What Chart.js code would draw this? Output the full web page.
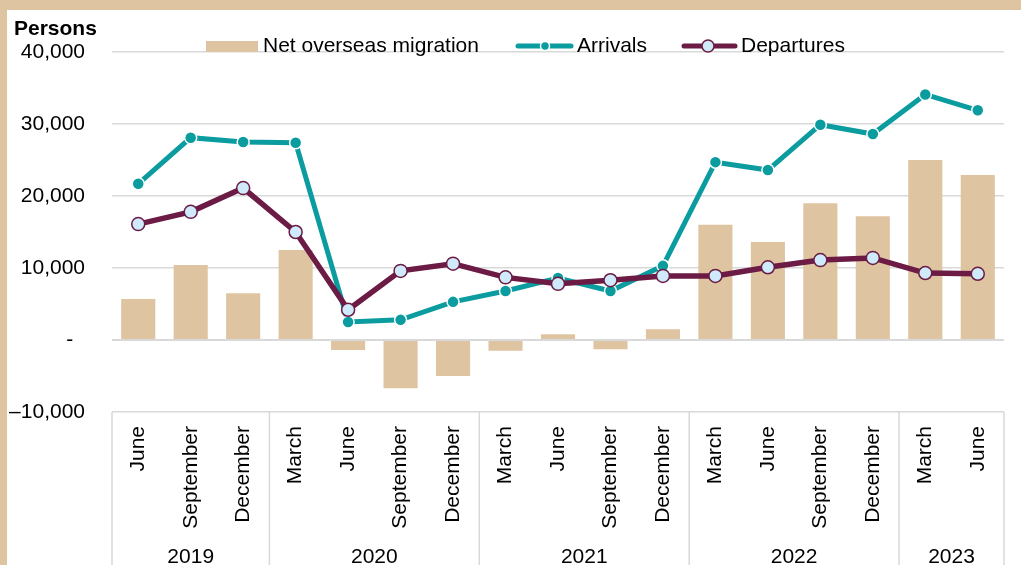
<!DOCTYPE html>
<html>
<head>
<meta charset="utf-8">
<script src="https://cdn.jsdelivr.net/npm/chart.js@4/dist/chart.umd.min.js"></script>
<style>
  html, body { margin: 0; padding: 0; background: #dec4a1; }
  canvas { display: block; }
</style>
</head>
<body>
<canvas id="migration-chart" width="1021" height="565"></canvas>
<script>
  // quarters and the year each one falls in
  var months = ['June', 'September', 'December',
    'March', 'June', 'September', 'December',
    'March', 'June', 'September', 'December',
    'March', 'June', 'September', 'December',
    'March', 'June'];
  var years = ['2019', '2020', '2021', '2022', '2023'];
  var yearCounts = [3, 4, 4, 4, 2];

  var netMigration = [5700, 10400, 6500, 12500, -1400, -6700, -5000, -1500, 800, -1300, 1500,
    16000, 13600, 19000, 17200, 25000, 22900];
  var arrivals = [21700, 28100, 27500, 27400, 2500, 2800, 5300, 6800, 8600, 6800, 10300,
    24700, 23600, 29900, 28600, 34100, 31900];
  var departures = [16100, 17800, 21100, 15000, 4200, 9600, 10600, 8700, 7800, 8300, 8900,
    8900, 10100, 11100, 11400, 9300, 9200];

  var yTicks = [-10000, 0, 10000, 20000, 30000, 40000];

  var TAN = '#dec4a1';
  var TEAL = '#0b9ca0';
  var MAROON = '#6b1b44';
  var PALE = '#cfeafb';
  var GRID = '#d9d9d9';
  var FONT = '"Liberation Sans", Arial, sans-serif';
  var SIZE = 21;

  var frame = {
    id: 'frame',
    beforeDraw: function (chart) {
      var ctx = chart.ctx;
      ctx.save();
      ctx.fillStyle = TAN;
      ctx.fillRect(0, 0, chart.width, chart.height);
      ctx.fillStyle = '#ffffff';
      ctx.fillRect(7, 10, chart.width - 7, chart.height - 10);
      ctx.restore();
    }
  };

  var extras = {
    id: 'extras',
    afterDraw: function (chart) {
      var ctx = chart.ctx;
      var x = chart.scales.x;
      var area = chart.chartArea;
      ctx.save();

      // year group boxes under the axis
      ctx.strokeStyle = GRID;
      ctx.lineWidth = 1.5;
      var start = 0;
      ctx.font = SIZE + 'px ' + FONT;
      ctx.fillStyle = '#000';
      ctx.textAlign = 'center';
      ctx.textBaseline = 'alphabetic';
      for (var i = 0; i <= years.length; i++) {
        var px = x.getPixelForValue(start - 0.5);
        ctx.beginPath();
        ctx.moveTo(px, area.bottom);
        ctx.lineTo(px, chart.height);
        ctx.stroke();
        if (i < years.length) {
          var end = start + yearCounts[i];
          var mid = (x.getPixelForValue(start - 0.5) + x.getPixelForValue(end - 0.5)) / 2;
          ctx.fillText(years[i], mid, 563);
          start = end;
        }
      }

      // axis title
      ctx.font = 'bold ' + SIZE + 'px ' + FONT;
      ctx.textAlign = 'left';
      ctx.fillText('Persons', 14, 35);

      // legend
      ctx.font = SIZE + 'px ' + FONT;
      ctx.textBaseline = 'middle';
      ctx.fillStyle = TAN;
      ctx.fillRect(206, 41, 52, 11);
      ctx.fillStyle = '#000';
      ctx.fillText('Net overseas migration', 263, 46);

      ctx.lineCap = 'round';
      ctx.lineWidth = 5;
      ctx.strokeStyle = TEAL;
      ctx.beginPath(); ctx.moveTo(518, 46); ctx.lineTo(571, 46); ctx.stroke();
      ctx.beginPath(); ctx.arc(545, 46, 4.5, 0, Math.PI * 2);
      ctx.fillStyle = TEAL; ctx.fill();
      ctx.lineWidth = 1.5; ctx.strokeStyle = '#fff'; ctx.stroke();
      ctx.fillStyle = '#000';
      ctx.fillText('Arrivals', 577, 46);

      ctx.lineWidth = 5;
      ctx.strokeStyle = MAROON;
      ctx.beginPath(); ctx.moveTo(684, 46); ctx.lineTo(735, 46); ctx.stroke();
      ctx.beginPath(); ctx.arc(708, 46, 6, 0, Math.PI * 2);
      ctx.fillStyle = PALE; ctx.fill();
      ctx.lineWidth = 1.5; ctx.stroke();
      ctx.fillStyle = '#000';
      ctx.fillText('Departures', 741, 46);

      ctx.restore();
    }
  };

  var chartContext = document.getElementById('migration-chart');
  var migrationChart = new Chart(chartContext, {
    type: 'bar',
    data: {
      labels: months,
      datasets: [
        {
          type: 'line',
          label: 'Departures',
          data: departures,
          borderColor: MAROON,
          borderWidth: 5.5,
          pointRadius: 6.5,
          pointBackgroundColor: PALE,
          pointBorderColor: MAROON,
          pointBorderWidth: 1.5,
          tension: 0,
          order: 1
        },
        {
          type: 'line',
          label: 'Arrivals',
          data: arrivals,
          borderColor: TEAL,
          borderWidth: 5,
          pointRadius: 6,
          pointBackgroundColor: TEAL,
          pointBorderColor: '#ffffff',
          pointBorderWidth: 1.5,
          tension: 0,
          order: 2
        },
        {
          label: 'Net overseas migration',
          data: netMigration,
          backgroundColor: TAN,
          barPercentage: 0.65,
          categoryPercentage: 1,
          order: 3
        }
      ]
    },
    options: {
      responsive: false,
      animation: false,
      layout: { padding: { top: 52, right: 17, left: 0, bottom: 0 } },
      plugins: {
        legend: { display: false },
        tooltip: { enabled: false }
      },
      scales: {
        x: {
          grid: { display: false },
          border: { display: false },
          ticks: {
            autoSkip: false,
            minRotation: 90,
            maxRotation: 90,
            padding: 6,
            color: '#000',
            font: { family: FONT, size: SIZE }
          },
          afterFit: function (scale) { scale.height = 153; }
        },
        y: {
          min: -10000,
          max: 40000,
          afterBuildTicks: function (scale) {
            scale.ticks = yTicks.map(function (v) { return { value: v }; });
          },
          grid: {
            color: GRID,
            lineWidth: function (c) { return c.tick && c.tick.value === 0 ? 2 : 1.5; },
            drawTicks: false
          },
          border: { display: false },
          ticks: {
            padding: 27,
            color: '#000',
            font: { family: FONT, size: SIZE },
            callback: function (v) {
              if (v === 0) return '-  ';
              var s = Math.abs(v).toLocaleString('en-US');
              return v < 0 ? '\u2013' + s : s;
            }
          },
          afterFit: function (scale) { scale.width = 112; }
        }
      }
    },
    plugins: [frame, extras]
  });
</script>
</body>
</html>
